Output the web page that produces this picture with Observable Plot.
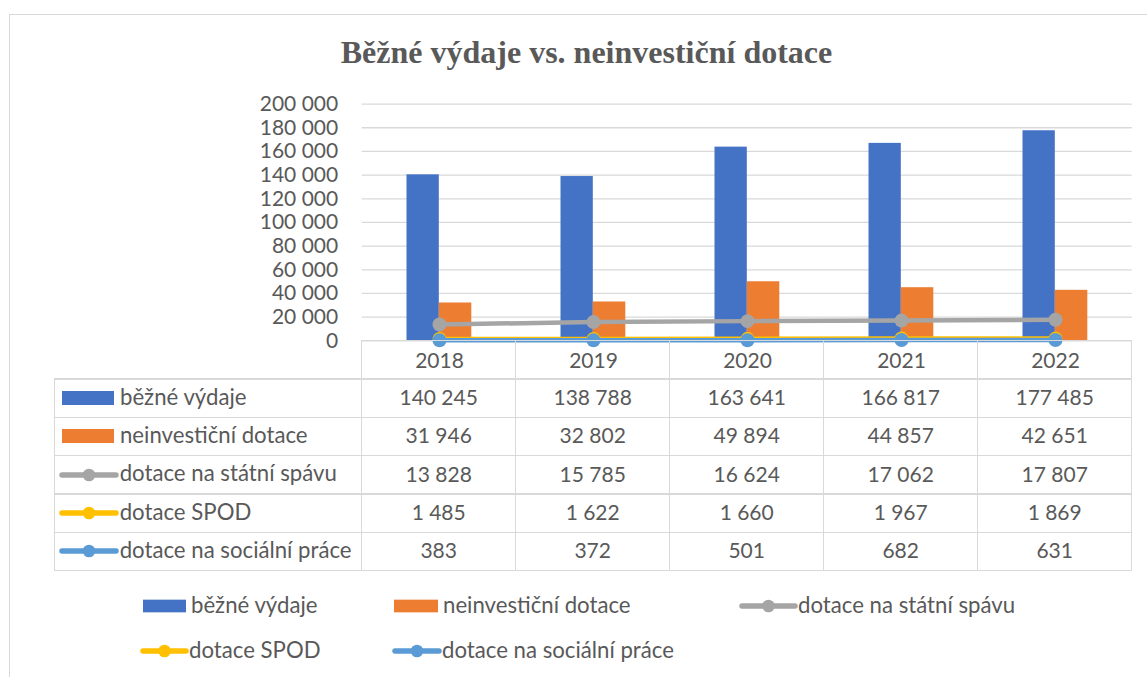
<!DOCTYPE html>
<html>
<head>
<meta charset="utf-8">
<script src="https://cdn.jsdelivr.net/npm/d3@7"></script>
<script src="https://cdn.jsdelivr.net/npm/@observablehq/plot@0.6"></script>
<style>
  html, body { margin: 0; padding: 0; background: #fff; }
  #wrap { position: relative; width: 1147px; height: 677px; overflow: hidden; font-family: Lato, sans-serif; color: #595959; }
  #frame { position: absolute; left: 9px; top: 14px; width: 1300px; height: 800px; border-left: 1.5px solid #D9D9D9; border-top: 1.5px solid #D9D9D9; }
  #title { position: absolute; left: 0; width: 1173px; top: 36px; text-align: center; font-family: "Liberation Serif", serif; font-weight: bold; font-size: 32px; line-height: 1; color: #595959; white-space: nowrap; }
  #chart { position: absolute; left: 0; top: 0; }
  .hl, .vl { position: absolute; background: #D9D9D9; }
  .cell { position: absolute; display: flex; align-items: center; justify-content: center; font-size: 21px; white-space: nowrap; box-sizing: border-box; padding-bottom: 3px; }
  .rowlab { position: absolute; display: flex; align-items: center; font-size: 22.2px; white-space: nowrap; box-sizing: border-box; }
  .rowlab span, .leg span { position: relative; top: -2px; }
  .leg { position: absolute; display: flex; align-items: center; font-size: 22.2px; white-space: nowrap; }
</style>
</head>
<body>
<div id="wrap">
  <div id="frame"></div>
  <div id="chart"></div>
  <div id="title">Běžné výdaje vs. neinvestiční dotace</div>
</div>
<script>
// ---- data ----
const years = ["2018", "2019", "2020", "2021", "2022"];
const bezneVydaje = [140245, 138788, 163641, 166817, 177485];
const neinvesticniDotace = [31946, 32802, 49894, 44857, 42651];
const dotaceStatniSprava = [13828, 15785, 16624, 17062, 17807];
const dotaceSPOD = [1485, 1622, 1660, 1967, 1869];
const dotaceSocialniPrace = [383, 372, 501, 682, 631];
const seriesNames = ["běžné výdaje", "neinvestiční dotace", "dotace na státní spávu", "dotace SPOD", "dotace na sociální práce"];
const seriesColors = ["#4472C4", "#ED7D31", "#A5A5A5", "#FFC000", "#5B9BD5"];
const seriesKinds = ["bar", "bar", "line", "line", "line"];
const seriesValues = [bezneVydaje, neinvesticniDotace, dotaceStatniSprava, dotaceSPOD, dotaceSocialniPrace];
const yTicks = [0, 20000, 40000, 60000, 80000, 100000, 120000, 140000, 160000, 180000, 200000];

const fmt = d => d3.format(",")(d).replace(/,/g, " ");
const rows = (k) => years.map((year, i) => ({year, value: seriesValues[k][i]}));

// ---- layout ----
const W = 1147, H = 677;
const plotL = 361.7, plotR = 1131.7, plotT = 103.6, plotB = 340.3;
const band = (plotR - plotL) / years.length;

const chart = Plot.plot({
  width: W, height: H,
  marginLeft: plotL, marginRight: W - plotR, marginTop: plotT, marginBottom: H - plotB,
  style: {fontFamily: "Lato, sans-serif", fontSize: "21px", color: "#595959", background: "transparent", overflow: "visible"},
  x: {type: "band", domain: years, padding: 0, label: null},
  y: {domain: [0, 200000], label: null},
  marks: [
    Plot.gridY({ticks: yTicks, stroke: "#D9D9D9", strokeOpacity: 1, strokeWidth: 1.3}),
    Plot.barY(rows(0), {x: "year", y: "value", fill: seriesColors[0], insetLeft: 44.5, insetRight: band - 76.8}),
    Plot.barY(rows(1), {x: "year", y: "value", fill: seriesColors[1], insetLeft: 76.8, insetRight: band - 109.3}),
    ...[2, 3, 4].flatMap(k => [
      Plot.lineY(rows(k), {x: "year", y: "value", stroke: seriesColors[k], strokeWidth: 4.5}),
      Plot.dot(rows(k), {x: "year", y: "value", r: 7, fill: seriesColors[k], stroke: "none"})
    ]),
    Plot.axisY({ticks: yTicks, tickSize: 0, tickPadding: 24, tickFormat: fmt, label: null}),
    Plot.axisX({tickSize: 0, tickPadding: 12, label: null})
  ]
});
document.getElementById("chart").appendChild(chart);

// ---- data table ----
const wrap = document.getElementById("wrap");
const tabL = 54.3, rowTop = 340.7, rowH = 38.3;
const colX = [tabL, plotL, ...years.map((_, i) => plotL + band * (i + 1))];
const rowY = d3.range(seriesNames.length + 2).map(i => rowTop + i * rowH);
const lw = 1.4;
function add(cls, l, t, w, h, html) {
  const d = document.createElement("div");
  d.className = cls;
  d.style.left = l + "px"; d.style.top = t + "px"; d.style.width = w + "px"; d.style.height = h + "px";
  if (html != null) d.innerHTML = html;
  wrap.appendChild(d);
  return d;
}
// horizontal lines
rowY.forEach((y, i) => {
  const x0 = i === 0 ? plotL : tabL;
  add("hl", x0 - lw / 2, y - lw / 2, plotR - x0 + lw, lw);
});
// vertical lines
colX.forEach((x, i) => {
  const y0 = i === 0 ? rowY[1] : rowY[0];
  add("vl", x - lw / 2, y0 - lw / 2, lw, rowY[rowY.length - 1] - y0 + lw);
});

function keySvg(k, w, h, rectH) {
  const c = seriesColors[k];
  if (seriesKinds[k] === "bar") {
    return `<svg width="${w}" height="${h}"><rect x="0" y="${(h - rectH) / 2}" width="${w}" height="${rectH}" fill="${c}"/></svg>`;
  }
  return `<svg width="${w + 6}" height="${h}" style="margin-left:-3px;margin-right:-3px"><line x1="3" x2="${w + 3}" y1="${h / 2}" y2="${h / 2}" stroke="${c}" stroke-width="5.5" stroke-linecap="round"/><circle cx="${w / 2 + 3}" cy="${h / 2}" r="6.3" fill="${c}"/></svg>`;
}

seriesNames.forEach((name, k) => {
  const y = rowY[k + 1];
  const lab = add("rowlab", tabL + 7.4, y, colX[1] - tabL - 7.4, rowH);
  lab.innerHTML = keySvg(k, seriesKinds[k] === "bar" ? 52.3 : 54, 20, 14) + `<span style="margin-left:${seriesKinds[k] === "bar" ? 6 : 4}px">${name}</span>`;
  years.forEach((yr, i) => {
    add("cell", colX[i + 1], y, band, rowH, fmt(seriesValues[k][i]));
  });
});

// ---- legend ----
const legendPos = [
  {x: 142.7, y: 606, w: 43.3},
  {x: 394, y: 606, w: 44},
  {x: 742, y: 606, w: 53},
  {x: 143, y: 651, w: 43},
  {x: 395, y: 651, w: 44}
];
seriesNames.forEach((name, k) => {
  const p = legendPos[k];
  const d = add("leg", p.x, p.y - 15, 400, 30);
  d.style.width = "auto";
  d.innerHTML = keySvg(k, p.w, 20, 12.7) + `<span style="margin-left:${seriesKinds[k] === "bar" ? 5 : 3}px">${name}</span>`;
});
</script>
</body>
</html>
